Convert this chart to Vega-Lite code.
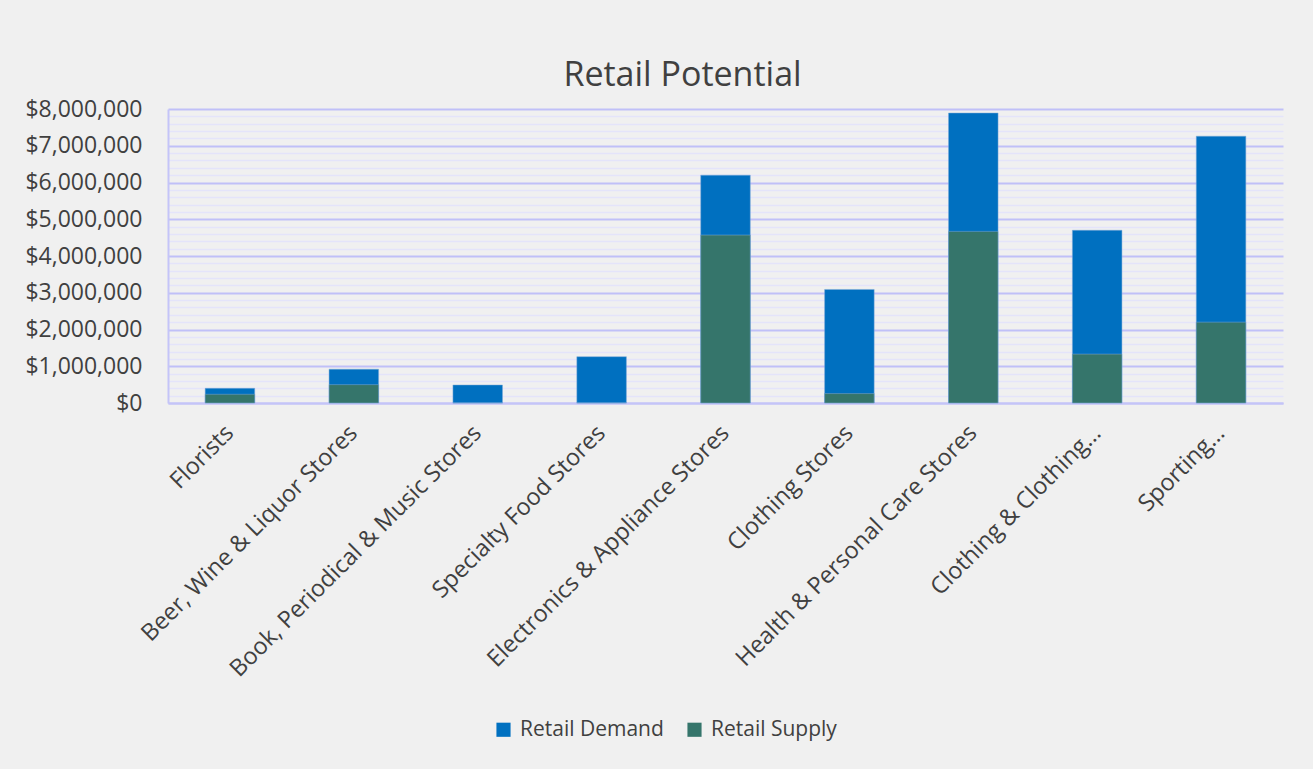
{
  "$schema": "https://vega.github.io/schema/vega-lite/v6.json",
  "width": 1115,
  "height": 294,
  "autosize": {"type": "none"},
  "padding": {"left": 168, "top": 109, "right": 30, "bottom": 366},
  "background": "#f0f0f0",
  "title": {
    "text": "Retail Potential",
    "fontSize": 34,
    "font": "Open Sans",
    "fontWeight": "normal",
    "color": "#404040",
    "anchor": "middle",
    "dx": -43,
    "offset": 5
  },
  "config": {
    "view": {"stroke": null},
    "font": "Open Sans"
  },
  "data": {
    "values": [
      {"category": "Florists", "series": "Retail Demand", "value": 400000},
      {"category": "Beer, Wine & Liquor Stores", "series": "Retail Demand", "value": 920000},
      {"category": "Book, Periodical & Music Stores", "series": "Retail Demand", "value": 490000},
      {"category": "Specialty Food Stores", "series": "Retail Demand", "value": 1260000},
      {"category": "Electronics & Appliance Stores", "series": "Retail Demand", "value": 6200000},
      {"category": "Clothing Stores", "series": "Retail Demand", "value": 3090000},
      {"category": "Health & Personal Care Stores", "series": "Retail Demand", "value": 7890000},
      {"category": "Clothing & Clothing…", "series": "Retail Demand", "value": 4700000},
      {"category": "Sporting…", "series": "Retail Demand", "value": 7260000},
      {"category": "Florists", "series": "Retail Supply", "value": 237000},
      {"category": "Beer, Wine & Liquor Stores", "series": "Retail Supply", "value": 500000},
      {"category": "Book, Periodical & Music Stores", "series": "Retail Supply", "value": 0},
      {"category": "Specialty Food Stores", "series": "Retail Supply", "value": 0},
      {"category": "Electronics & Appliance Stores", "series": "Retail Supply", "value": 4570000},
      {"category": "Clothing Stores", "series": "Retail Supply", "value": 256000},
      {"category": "Health & Personal Care Stores", "series": "Retail Supply", "value": 4670000},
      {"category": "Clothing & Clothing…", "series": "Retail Supply", "value": 1330000},
      {"category": "Sporting…", "series": "Retail Supply", "value": 2200000}
    ]
  },
  "encoding": {
    "x": {
      "field": "category",
      "type": "nominal",
      "sort": null,
      "title": null,
      "scale": {"paddingInner": 0.6, "paddingOuter": 0.3},
      "axis": {
        "labelAngle": -45,
        "labelAlign": "right",
        "labelBaseline": "middle",
        "labelFontSize": 23.5,
        "labelColor": "#404040",
        "labelPadding": 26,
        "labelLimit": 600,
        "labelOverlap": false,
        "ticks": false,
        "domain": true,
        "domainColor": "#c4c4f8",
        "domainWidth": 2,
        "grid": false
      }
    }
  },
  "layer": [
    {
      "mark": {"type": "bar", "opacity": 0},
      "encoding": {
        "y": {
          "field": "value",
          "type": "quantitative",
          "stack": null,
          "scale": {"domain": [0, 8000000], "nice": false},
          "axis": {
            "orient": "right",
            "title": null,
            "labels": false,
            "ticks": false,
            "domain": false,
            "grid": true,
            "gridColor": "#e4e4fa",
            "gridWidth": 1.5,
            "values": [200000, 400000, 600000, 800000, 1200000, 1400000, 1600000, 1800000, 2200000, 2400000, 2600000, 2800000, 3200000, 3400000, 3600000, 3800000, 4200000, 4400000, 4600000, 4800000, 5200000, 5400000, 5600000, 5800000, 6200000, 6400000, 6600000, 6800000, 7200000, 7400000, 7600000, 7800000]
          }
        }
      }
    },
    {
      "mark": {"type": "bar", "stroke": "#7fa8d8", "strokeWidth": 0.5},
      "encoding": {
        "y": {
          "field": "value",
          "type": "quantitative",
          "stack": null,
          "scale": {"domain": [0, 8000000], "nice": false},
          "axis": {
            "orient": "left",
            "title": null,
            "format": "$,.0f",
            "values": [0, 1000000, 2000000, 3000000, 4000000, 5000000, 6000000, 7000000, 8000000],
            "labelFontSize": 23,
            "labelColor": "#404040",
            "labelPadding": 26,
            "ticks": false,
            "domain": true,
            "domainColor": "#c4c4f8",
            "domainWidth": 2,
            "grid": true,
            "gridColor": "#c0c0f8",
            "gridWidth": 2
          }
        },
        "color": {
          "field": "series",
          "type": "nominal",
          "scale": {"domain": ["Retail Demand", "Retail Supply"], "range": ["#0070c0", "#35756b"]},
          "legend": {
            "title": null,
            "orient": "none",
            "direction": "horizontal",
            "legendX": 325,
            "legendY": 610,
            "symbolType": "square",
            "symbolSize": 200,
            "symbolStrokeWidth": 0,
            "labelFontSize": 21,
            "labelColor": "#404040",
            "columnPadding": 20,
            "labelOffset": 6
          }
        }
      }
    }
  ],
  "resolve": {"axis": {"y": "independent"}}
}
